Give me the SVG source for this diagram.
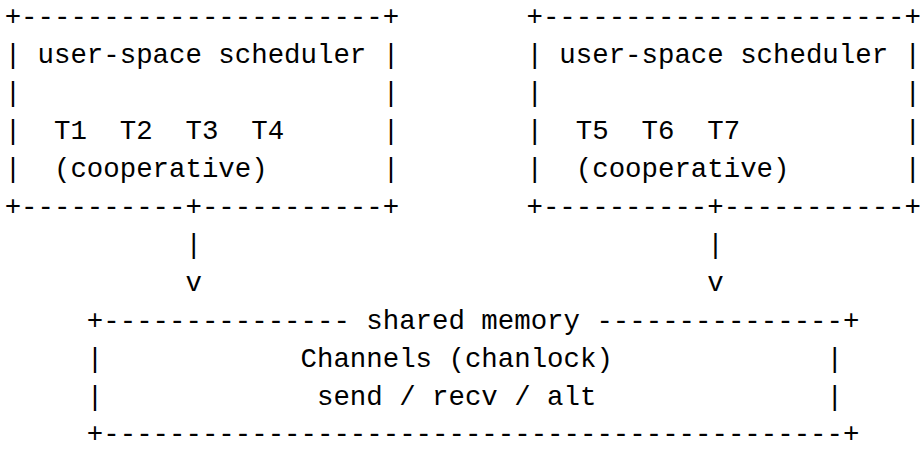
<svg xmlns="http://www.w3.org/2000/svg" width="921" height="450" viewBox="0 0 921 450" xml:space="preserve">
<style>
text { font-family: "Liberation Mono", "Courier New", monospace; font-size: 27.4px; fill: #000; white-space: pre; }
.edge { text-anchor: end; }
</style>
<rect width="921" height="450" fill="#fff"/>
<g id="scheduler-left">
<text x="4.7" y="24.5">+----------------------+</text>
<text x="4.7" y="62.5">| user-space scheduler |</text>
<text x="4.7" y="100.5">|                      |</text>
<text x="4.7" y="138.5">|  T1  T2  T3  T4      |</text>
<text x="4.7" y="176.5">|  (cooperative)       |</text>
<text x="4.7" y="214.5">+----------+-----------+</text>
</g>
<g id="scheduler-right">
<text x="526.5" y="24.5">+----------------------</text>
<text x="526.5" y="62.5">| user-space scheduler</text>
<text x="526.5" y="100.5">|</text>
<text x="526.5" y="138.5">|  T5  T6  T7</text>
<text x="526.5" y="176.5">|  (cooperative)</text>
<text x="526.5" y="214.5">+----------+-----------</text>
<text class="edge" x="920.9" y="24.5">+</text>
<text class="edge" x="920.9" y="62.5">|</text>
<text class="edge" x="920.9" y="100.5">|</text>
<text class="edge" x="920.9" y="138.5">|</text>
<text class="edge" x="920.9" y="176.5">|</text>
<text class="edge" x="920.9" y="214.5">+</text>
</g>
<g id="connectors">
<text x="185.43" y="252.5">|</text>
<text x="185.43" y="290.5">v</text>
<text x="707.2" y="252.5">|</text>
<text x="707.2" y="290.5">v</text>
</g>
<g id="shared-memory">
<text x="86.85" y="328.5">+--------------- shared memory ---------------+</text>
<text x="86.85" y="366.5">|            Channels (chanlock)             |</text>
<text x="86.85" y="404.5">|             send / recv / alt              |</text>
<text x="86.85" y="442">+---------------------------------------------+</text>
</g>
</svg>
